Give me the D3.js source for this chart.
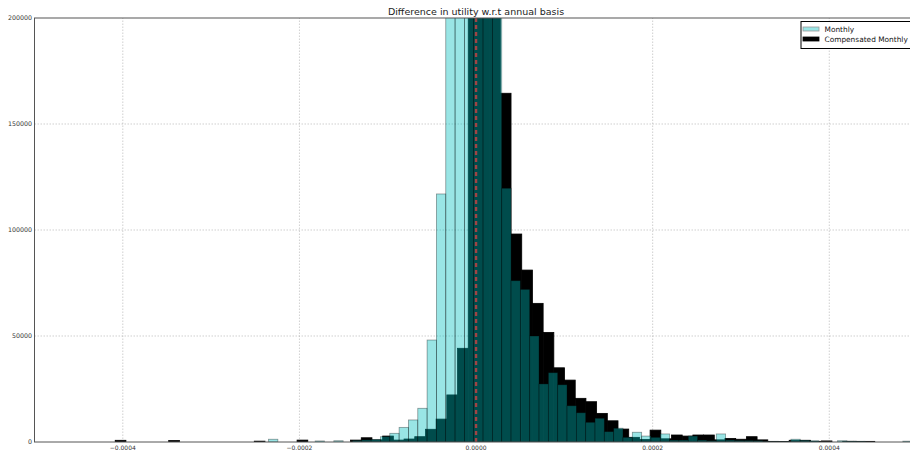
<!DOCTYPE html>
<html>
<head>
<meta charset="utf-8">
<script src="https://cdn.jsdelivr.net/npm/d3@7"></script>
<style>
body { margin: 0; background: #fff; }
svg { display: block; font-family: "DejaVu Sans", sans-serif; }
</style>
</head>
<body>
<div id="chart"></div>
<script>
var width = 910;
var height = 455;

// histogram of "Compensated Monthly" (drawn first, black)
var compStart = -4.086e-4;
var compWidth = 1.2114e-5;
var compCounts = [
    800, 0, 0, 0, 0, 700, 0, 0, 0, 0,
    0, 0, 0, 400, 0, 0, 0, 900, 0, 0,
    0, 0, 900, 2000, 1000, 2800, 900, 1400, 2500, 6000,
    10800, 22200, 44200, 260000, 300000, 280000, 164500, 98100, 81100, 65400,
    51700, 35000, 29200, 20600, 19000, 13500, 10000, 6100, 2200, 1200,
    5600, 1500, 3300, 2800, 3300, 3300, 1000, 1700, 1300, 2500,
    1000, 300, 200, 800, 800, 300, 500, 0, 300, 300,
    300
];

// histogram of "Monthly" (cyan, alpha 0.4, drawn on top)
var monthStart = -2.350e-4;
var monthWidth = 1.0563e-5;
var monthCounts = [
    1300, 0, 0, 0, 0, 500, 0, 600, 0, 700,
    1000, 1200, 2500, 4100, 6900, 10400, 15900, 48100, 117000, 300000,
    350000, 350000, 300000, 260000, 220000, 119700, 76100, 72000, 50000, 27400,
    32700, 27000, 17100, 13800, 9300, 11200, 4900, 6500, 2200, 4600,
    2800, 2200, 3800, 900, 900, 2800, 900, 600, 3800, 900,
    700, 700, 600, 200, 200, 200, 1300, 800, 600, 0,
    0, 600, 400, 300, 0, 0, 0, 0, 400
];

var xTicks = [-0.0004, -0.0002, 0, 0.0002, 0.0004];
var yTicks = [0, 50000, 100000, 150000, 200000];
var seriesNames = ["Monthly", "Compensated Monthly"];

var x = d3.scaleLinear().domain([-0.0005, 0.0005]).range([34.5, 917.6]);
var y = d3.scaleLinear().domain([0, 200000]).range([442, 18]);

var svg = d3.select("#chart").append("svg")
    .attr("width", width)
    .attr("height", height);

svg.append("clipPath").attr("id", "plot")
    .append("rect")
    .attr("x", x(-0.0005)).attr("y", y(200000))
    .attr("width", x(0.0005) - x(-0.0005))
    .attr("height", y(0) - y(200000));

// grid
var grid = svg.append("g").attr("stroke", "#b0b0b0").attr("stroke-width", 0.6)
    .attr("stroke-dasharray", "1.5,1.5");
grid.selectAll(".gx").data(xTicks).enter().append("line")
    .attr("x1", function(d){ return x(d); }).attr("x2", function(d){ return x(d); })
    .attr("y1", y(0)).attr("y2", y(200000));
grid.selectAll(".gy").data(yTicks.slice(1, -1)).enter().append("line")
    .attr("x1", x(-0.0005)).attr("x2", x(0.0005))
    .attr("y1", function(d){ return y(d); }).attr("y2", function(d){ return y(d); });

function bins(start, w, counts) {
    return counts.map(function(c, i){
        return {x0: start + i * w, x1: start + (i + 1) * w, n: c};
    }).filter(function(d){ return d.n > 0; });
}

var bars = svg.append("g").attr("clip-path", "url(#plot)");

bars.append("g").selectAll("rect")
    .data(bins(compStart, compWidth, compCounts))
    .enter().append("rect")
    .attr("x", function(d){ return x(d.x0); })
    .attr("width", function(d){ return x(d.x1) - x(d.x0); })
    .attr("y", function(d){ return y(d.n); })
    .attr("height", function(d){ return y(0) - y(d.n); })
    .attr("fill", "#000")
    .attr("stroke", "#000")
    .attr("stroke-width", 0.8);

bars.append("g").selectAll("rect")
    .data(bins(monthStart, monthWidth, monthCounts))
    .enter().append("rect")
    .attr("x", function(d){ return x(d.x0); })
    .attr("width", function(d){ return x(d.x1) - x(d.x0); })
    .attr("y", function(d){ return y(d.n); })
    .attr("height", function(d){ return y(0) - y(d.n); })
    .attr("fill", "rgb(0,191,191)")
    .attr("fill-opacity", 0.4)
    .attr("stroke", "#000")
    .attr("stroke-opacity", 0.4)
    .attr("stroke-width", 0.8);

// zero line
svg.append("line")
    .attr("x1", x(0)).attr("x2", x(0))
    .attr("y1", y(0)).attr("y2", y(200000))
    .attr("stroke", "#a04444")
    .attr("stroke-width", 2.4)
    .attr("stroke-dasharray", "4,3");

// spines
svg.append("rect")
    .attr("x", x(-0.0005)).attr("y", y(200000))
    .attr("width", x(0.0005) - x(-0.0005))
    .attr("height", y(0) - y(200000))
    .attr("fill", "none")
    .attr("stroke", "#555")
    .attr("stroke-width", 1);

// tick labels
svg.append("g").selectAll("text").data(xTicks).enter().append("text")
    .attr("x", function(d){ return x(d); })
    .attr("y", 450)
    .attr("text-anchor", "middle")
    .attr("font-size", "6px")
    .attr("fill", "#333")
    .text(function(d){ return d3.format(".4f")(d).replace("-", "\u2212"); });

svg.append("g").selectAll("text").data(yTicks).enter().append("text")
    .attr("x", 32)
    .attr("y", function(d){ return y(d) + 2; })
    .attr("text-anchor", "end")
    .attr("font-size", "6.3px")
    .attr("fill", "#333")
    .text(function(d){ return d; });

svg.append("text")
    .attr("x", 476).attr("y", 15)
    .attr("text-anchor", "middle")
    .attr("font-size", "9.5px")
    .attr("fill", "#222")
    .text("Difference in utility w.r.t annual basis");

// legend
var lg = svg.append("g").attr("transform", "translate(801,21.5)");
lg.append("rect").attr("width", 120).attr("height", 27)
    .attr("fill", "#fff").attr("stroke", "#000").attr("stroke-width", 1);
var swatch = [
    {fill: "rgb(153,229,229)", stroke: "#999"},
    {fill: "#000", stroke: "#000"}
];
seriesNames.forEach(function(name, i){
    lg.append("rect")
        .attr("x", 2).attr("y", 5.5 + i * 10)
        .attr("width", 16).attr("height", 4)
        .attr("fill", swatch[i].fill)
        .attr("stroke", swatch[i].stroke)
        .attr("stroke-width", 0.8);
    lg.append("text")
        .attr("x", 23.5).attr("y", 10.5 + i * 10)
        .attr("font-size", "7.4px")
        .attr("fill", "#111")
        .text(name);
});
</script>
</body>
</html>
